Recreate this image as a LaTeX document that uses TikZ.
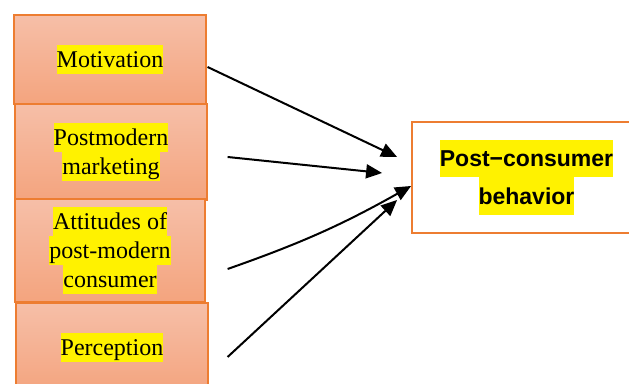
\documentclass[tikz,border=0pt]{standalone}
\usepackage{fontspec}
\setmainfont{Liberation Serif}
\setsansfont{Liberation Sans}
\usetikzlibrary{arrows.meta,calc}
\definecolor{boxline}{HTML}{ED7D31}
\definecolor{boxtop}{HTML}{F6BFA8}
\definecolor{boxbot}{HTML}{F4A47E}
\newcommand{\hlserif}[1]{{\setlength{\fboxsep}{0pt}\colorbox{yellow}{\rule[-3.3pt]{0pt}{14.5pt}#1}}}
\newcommand{\hlsans}[1]{{\setlength{\fboxsep}{0pt}\colorbox{yellow}{\rule[-5.3pt]{0pt}{18.7pt}#1}}}
\begin{document}
\begin{tikzpicture}[x=0.5pt,y=-0.5pt,
  factorbox/.style={draw=boxline, line width=0.6pt, top color=boxtop, bottom color=boxbot,
    inner sep=0pt, align=center, font=\fontsize{12}{14.5}\selectfont},
  resultbox/.style={draw=boxline, line width=0.9pt, fill=white, inner sep=0pt,
    align=center, font=\sffamily\bfseries\fontsize{11.5}{18.7}\selectfont},
  arr/.style={line width=1pt, -{Triangle[length=8pt,width=7pt]}}]
\useasboundingbox (0,0) rectangle (629,384);
\clip (0,0) rectangle (629,384);
\node[factorbox, minimum width=96pt, minimum height=44.5pt] (m) at (110,59.5) {\hlserif{Motivation}};
\node[factorbox, minimum width=96pt, minimum height=48pt] (pm) at (111,152) {\hlserif{Postmodern}\\\hlserif{marketing}};
\node[factorbox, minimum width=95pt, minimum height=51.5pt] (at) at (110,250.5) {\hlserif{Attitudes of}\\\hlserif{post-modern}\\\hlserif{consumer}};
\node[factorbox, minimum width=96pt, minimum height=45pt] (pe) at (112,348) {\hlserif{Perception}};
\node[resultbox, minimum width=114.5pt, minimum height=55.5pt] (pc) at (526.5,177.5) {\hlsans{Post−consumer}\\\hlsans{behavior}};
\draw[arr] ($(m.east)+(1,7.5)$) -- ($(pc.west)+(-14,-20.5)$);
\draw[arr] ($(pm.east)+(20,5)$) -- ($(pc.west)+(-29,-4.5)$);
\draw[arr] ($(at.east)+(22,18.5)$) to[bend right=5] ($(pc.west)+(0,8.5)$);
\draw[arr] ($(pe.east)+(19,9)$) -- ($(pc.west)+(-14,22.5)$);
\end{tikzpicture}
\end{document}
